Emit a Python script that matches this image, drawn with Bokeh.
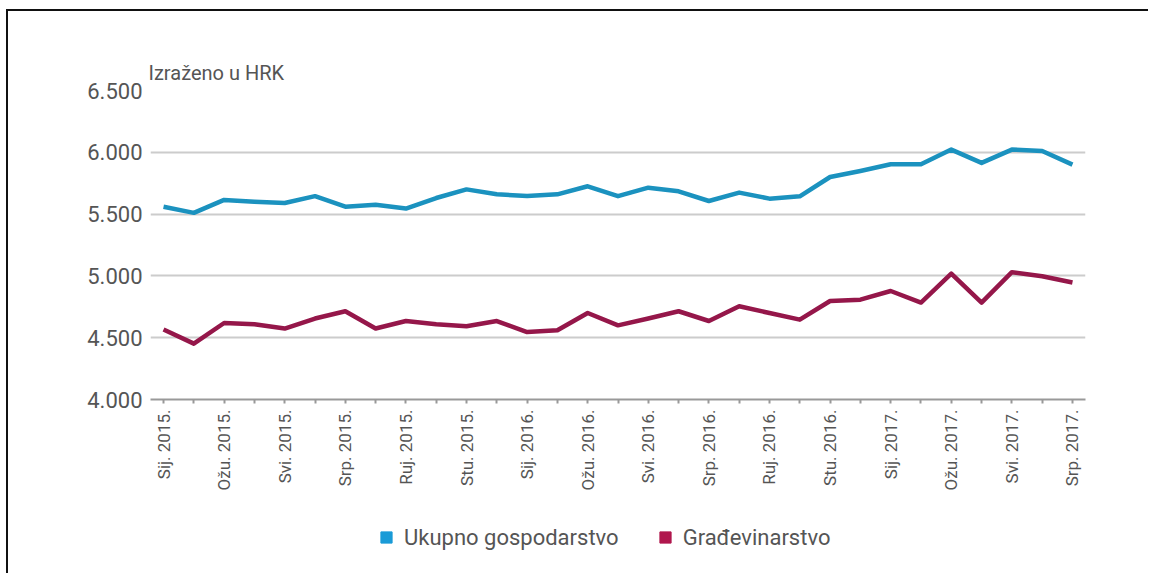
import math
from bokeh.plotting import figure
from bokeh.layouts import column
from bokeh.models import FixedTicker, Legend, LegendItem, ColumnDataSource
from bokeh.embed import file_html
from bokeh.resources import INLINE

months = [
    "Sij. 2015.", "Velj. 2015.", "Ožu. 2015.", "Tra. 2015.", "Svi. 2015.", "Lip. 2015.",
    "Srp. 2015.", "Kol. 2015.", "Ruj. 2015.", "Lis. 2015.", "Stu. 2015.", "Pro. 2015.",
    "Sij. 2016.", "Velj. 2016.", "Ožu. 2016.", "Tra. 2016.", "Svi. 2016.", "Lip. 2016.",
    "Srp. 2016.", "Kol. 2016.", "Ruj. 2016.", "Lis. 2016.", "Stu. 2016.", "Pro. 2016.",
    "Sij. 2017.", "Velj. 2017.", "Ožu. 2017.", "Tra. 2017.", "Svi. 2017.", "Lip. 2017.",
    "Srp. 2017.",
]
ukupno = [5560, 5510, 5615, 5600, 5590, 5645, 5560, 5575, 5545, 5630, 5700, 5660,
          5647, 5660, 5725, 5645, 5714, 5684, 5606, 5674, 5625, 5644, 5800, 5849,
          5903, 5903, 6022, 5914, 6022, 6011, 5900]
gradevinarstvo = [4566, 4452, 4619, 4608, 4574, 4655, 4714, 4574, 4635, 4608, 4592, 4635,
                  4546, 4560, 4700, 4600, 4655, 4714, 4635, 4754, 4700, 4646, 4797, 4808,
                  4878, 4784, 5019, 4784, 5030, 4997, 4946]
y_ticks = [4000, 4500, 5000, 5500, 6000, 6500]
y_tick_labels = ["4.000", "4.500", "5.000", "5.500", "6.000", "6.500"]
series_names = ["Ukupno gospodarstvo", "Građevinarstvo"]

BLUE = "#1b92bf"
RED = "#95174a"
TXT = "#555555"
FONT = "Roboto"

x = list(range(len(months)))
src = ColumnDataSource(dict(x=x, u=ukupno, g=gradevinarstvo))

p = figure(width=1142, height=499, output_backend="svg", toolbar_location=None,
           x_range=(-0.43, 30.43), y_range=(4000, 6500),
           min_border_left=142, min_border_right=65, min_border_top=79,
           min_border_bottom=111)
p.styles = {"border-top": "2px solid #111111", "border-left": "2px solid #111111",
            "margin-top": "9px", "margin-left": "6px"}
p.outline_line_color = None
p.background_fill_color = "white"
p.border_fill_color = "white"

p.title.text = "Izraženo u HRK"
p.title.text_font = FONT
p.title.text_font_size = "20px"
p.title.text_font_style = "normal"
p.title.text_color = TXT
p.title.standoff = 12
p.title.offset = -2

p.line("x", "u", source=src, line_color=BLUE, line_width=4.5, line_join="round")
p.line("x", "g", source=src, line_color=RED, line_width=4.5, line_join="round")

# x axis
xa = p.xaxis[0]
xa.ticker = FixedTicker(ticks=x)
xa.major_label_overrides = {i: (months[i] if i % 2 == 0 else "") for i in x}
xa.major_label_orientation = math.pi / 2
xa.major_label_text_font = FONT
xa.major_label_text_font_size = "17px"
xa.major_label_text_color = TXT
xa.axis_line_color = "#999999"
xa.axis_line_width = 2
xa.major_tick_line_color = "#999999"
xa.major_tick_line_width = 2
xa.major_tick_out = 4
xa.major_tick_in = 0
xa.minor_tick_line_color = None
xa.major_label_standoff = 6

# y axis
ya = p.yaxis[0]
ya.ticker = FixedTicker(ticks=y_ticks)
ya.major_label_overrides = {t: l for t, l in zip(y_ticks, y_tick_labels)}
ya.major_label_text_font = FONT
ya.major_label_text_font_size = "22px"
ya.major_label_text_color = TXT
ya.axis_line_color = None
ya.major_tick_line_color = None
ya.minor_tick_line_color = None
ya.major_label_standoff = 2

p.xgrid.grid_line_color = None
p.ygrid.grid_line_color = "#cccccc"
p.ygrid.grid_line_width = 2

# legend strip
p2 = figure(width=1142, height=65, output_backend="svg", toolbar_location=None,
            x_range=(0, 1), y_range=(0, 1),
            x_axis_location=None, y_axis_location=None,
            min_border_left=0, min_border_right=0, min_border_top=0, min_border_bottom=0)
p2.styles = {"border-left": "2px solid #111111", "margin-left": "6px"}
p2.grid.grid_line_color = None
p2.outline_line_color = None
p2.border_fill_color = "white"

nan = float("nan")
s1 = p2.scatter(x=[nan], y=[nan], marker="square", size=12, color="#1a9bd7")
s2 = p2.scatter(x=[nan], y=[nan], marker="square", size=12, color="#b0174d")

legend = Legend(items=[LegendItem(label=series_names[0], renderers=[s1]),
                       LegendItem(label=series_names[1], renderers=[s2])],
                orientation="horizontal", location=(222, 22))
legend.label_text_font = FONT
legend.label_text_font_size = "22px"
legend.label_text_color = TXT
legend.border_line_color = None
legend.background_fill_alpha = 0
legend.glyph_width = 28
legend.glyph_height = 28
legend.label_standoff = 4
legend.spacing = 32
legend.margin = 0
legend.padding = 6
p2.add_layout(legend)

layout = column(p, p2, spacing=0)
open("out.html", "w").write(file_html(layout, INLINE))
